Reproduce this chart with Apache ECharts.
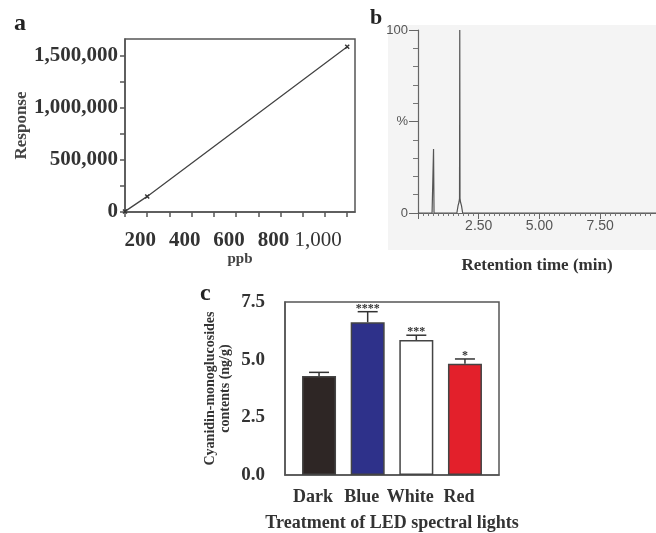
<!DOCTYPE html>
<html><head><meta charset="utf-8">
<script src="https://cdn.jsdelivr.net/npm/echarts@6/dist/echarts.min.js"></script>
<style>html,body{margin:0;padding:0;background:#fff}#c{width:656px;height:533px}</style>
</head><body><div id="c"></div>
<script>
// Panel a: calibration curve
const calibPpb = [100, 200, 1100];
const calibResponse = [6000, 150000, 1588000];
const calibXTicks = [200, 400, 600, 800, 1000];
const calibYTicks = [0, 500000, 1000000, 1500000];
// Panel b: chromatogram
const rtMin = [0, 0.58, 0.62, 0.64, 0.66, 0.70, 1.60, 1.65, 1.69, 1.71, 1.72, 1.73, 1.75, 1.79, 1.84, 9.8];
const rtPct = [0, 0, 0, 35, 0, 0, 0, 4, 6, 8, 100, 8, 6, 4, 0, 0];
const rtTicks = [2.5, 5, 7.5];
// Panel c: bar chart
const treatments = ['Dark', 'Blue', 'White', 'Red'];
const contents = [4.29, 6.62, 5.85, 4.82];
const contentsErr = [0.16, 0.46, 0.21, 0.21];
const significance = ['', '****', '***', '*'];
const barColors = ['#2e2625', '#2e318a', '#ffffff', '#e3202b'];
const contentTicks = [0, 2.5, 5, 7.5];

const SERIF = '"Liberation Serif", "DejaVu Serif", serif';
const SANS = '"Liberation Sans", Arial, sans-serif';
const AX = '#555';

const chart = echarts.init(document.getElementById('c'), null, {renderer: 'canvas'});
const option = {
  backgroundColor: '#fff',
  animation: false,
  title: [
    {text: 'a', left: 9, top: 7, textStyle: {fontFamily: SERIF, fontWeight: 'bold', fontSize: 24, color: '#222'}},
    {text: 'b', left: 365, top: 2, textStyle: {fontFamily: SERIF, fontWeight: 'bold', fontSize: 22, color: '#222'}},
    {text: 'c', left: 195, top: 277, textStyle: {fontFamily: SERIF, fontWeight: 'bold', fontSize: 24, color: '#222'}}
  ],
  grid: [
    {left: 125, right: 301, top: 39, bottom: 321, show: true, borderColor: AX, borderWidth: 1.5, backgroundColor: 'transparent'},
    {left: 388, right: 0, top: 25, bottom: 283, show: true, borderWidth: 0, backgroundColor: '#f4f4f4'},
    {left: 418, right: 0, top: 30, bottom: 320},
    {left: 285, right: 157, top: 302, bottom: 54, show: true, borderColor: AX, borderWidth: 1.5, backgroundColor: 'transparent'}
  ],
  xAxis: [
    {
      gridIndex: 0, type: 'value', min: 100, max: 1135, interval: 100,
      name: 'ppb', nameLocation: 'middle', nameGap: 35,
      nameTextStyle: {fontFamily: SERIF, fontWeight: 'bold', fontSize: 15, color: '#444'},
      axisLine: {onZero: false, lineStyle: {color: AX, width: 1.5}},
      axisTick: {inside: false, length: 5, lineStyle: {color: AX, width: 1.5}},
      splitLine: {show: false},
      axisLabel: {
        margin: 18, showMaxLabel: false, fontFamily: SERIF, fontWeight: 'bold', fontSize: 21, color: '#333',
        padding: [0, 14, 0, 0],
        formatter: v => calibXTicks.includes(v) ? (v === 1000 ? '{r|1,000}' : v.toLocaleString('en-US')) : '',
        rich: {r: {fontFamily: SERIF, fontWeight: 'normal', fontSize: 21, color: '#333'}}
      }
    },
    {gridIndex: 1, type: 'value', show: false, min: 0, max: 1},
    {
      gridIndex: 2, type: 'value', min: 0, max: 9.8, interval: 2.5,
      name: 'Retention time (min)', nameLocation: 'middle', nameGap: 44,
      nameTextStyle: {fontFamily: SERIF, fontWeight: 'bold', fontSize: 17, color: '#333'},
      axisLine: {onZero: false, lineStyle: {color: '#666', width: 1.2}},
      axisTick: {length: 6, lineStyle: {color: '#666'}},
      minorTick: {show: true, splitNumber: 12, length: 3, lineStyle: {color: '#777'}},
      splitLine: {show: false},
      axisLabel: {
        margin: 6, showMaxLabel: false, fontFamily: SANS, fontSize: 14, color: '#555',
        formatter: v => rtTicks.includes(v) ? v.toFixed(2) : ''
      }
    },
    {
      gridIndex: 3, type: 'value', min: -0.7, max: 3.7,
      name: 'Treatment of LED spectral lights', nameLocation: 'middle', nameGap: 39,
      nameTextStyle: {fontFamily: SERIF, fontWeight: 'bold', fontSize: 18, color: '#333'},
      axisLine: {onZero: false, lineStyle: {color: AX, width: 1.5}},
      axisTick: {show: false},
      splitLine: {show: false},
      axisLabel: {
        margin: 13, customValues: treatments.map((t, i) => i),
        fontFamily: SERIF, fontWeight: 'bold', fontSize: 18, color: '#333',
        padding: [0, 12, 0, 0],
        formatter: v => treatments[Math.round(v)] || ''
      }
    }
  ],
  yAxis: [
    {
      gridIndex: 0, type: 'value', min: 0, max: 1663000, interval: 250000,
      name: 'Response', nameLocation: 'middle', nameGap: 92, nameRotate: 90,
      nameTextStyle: {fontFamily: SERIF, fontWeight: 'bold', fontSize: 17, color: '#444'},
      axisLine: {onZero: false, lineStyle: {color: AX, width: 1.5}},
      axisTick: {length: 5, lineStyle: {color: AX, width: 1.5}},
      splitLine: {show: false},
      axisLabel: {
        margin: 7, showMaxLabel: false, fontFamily: SERIF, fontWeight: 'bold', fontSize: 21, color: '#333',
        formatter: v => calibYTicks.includes(v) ? v.toLocaleString('en-US') : ''
      }
    },
    {gridIndex: 1, type: 'value', show: false, min: 0, max: 1},
    {
      gridIndex: 2, type: 'value', min: 0, max: 100, interval: 50,
      axisLine: {onZero: false, lineStyle: {color: '#666', width: 1.2}},
      axisTick: {length: 9, lineStyle: {color: '#666'}},
      minorTick: {show: true, splitNumber: 5, length: 5, lineStyle: {color: '#777'}},
      splitLine: {show: false},
      axisLabel: {
        margin: 10, fontFamily: SANS, fontSize: 13, color: '#555',
        formatter: v => v === 50 ? '%' : String(v)
      }
    },
    {
      gridIndex: 3, type: 'value', min: 0, max: 7.5, interval: 2.5,
      name: 'Cyanidin-monoglucosides\ncontents (ng/g)', nameLocation: 'middle', nameGap: 52, nameRotate: 90,
      nameTextStyle: {fontFamily: SERIF, fontWeight: 'bold', fontSize: 14, lineHeight: 15, color: '#333', align: 'center'},
      axisLine: {onZero: false, lineStyle: {color: AX, width: 1.5}},
      axisTick: {show: false},
      splitLine: {show: false},
      axisLabel: {
        margin: 20, fontFamily: SERIF, fontWeight: 'bold', fontSize: 19, color: '#333',
        formatter: v => contentTicks.includes(v) ? v.toFixed(1) : ''
      }
    }
  ],
  series: [
    {
      type: 'line', xAxisIndex: 0, yAxisIndex: 0,
      data: calibPpb.map((x, i) => [x, calibResponse[i]]),
      lineStyle: {color: '#444', width: 1.3},
      symbol: 'path://M0,1L1,0L5,4L4,5Z M4,0L5,1L1,5L0,4Z', symbolSize: 5,
      itemStyle: {color: '#333'}
    },
    {
      type: 'line', xAxisIndex: 2, yAxisIndex: 2,
      data: rtMin.map((x, i) => [x, rtPct[i]]),
      showSymbol: false, symbol: 'none',
      lineStyle: {color: '#555', width: 1.2}
    },
    {
      type: 'bar', xAxisIndex: 3, yAxisIndex: 3, barWidth: 34,
      data: treatments.map((t, i) => ({value: [i, contents[i]], itemStyle: {color: barColors[i]}})),
      itemStyle: {borderColor: '#444', borderWidth: 1.5}
    },
    {
      type: 'custom', xAxisIndex: 3, yAxisIndex: 3,
      data: treatments.map((t, i) => [i, contents[i], contents[i] + contentsErr[i]]),
      renderItem: function (params, api) {
        const x = api.value(0);
        const base = api.coord([x, api.value(1)]);
        const top = api.coord([x, api.value(2)]);
        const hw = 10;
        const sty = {stroke: '#333', lineWidth: 1.5};
        return {
          type: 'group', children: [
            {type: 'line', shape: {x1: base[0], y1: base[1], x2: top[0], y2: top[1]}, style: sty},
            {type: 'line', shape: {x1: top[0] - hw, y1: top[1], x2: top[0] + hw, y2: top[1]}, style: sty},
            {type: 'text', style: {text: significance[params.dataIndex], x: top[0], y: top[1] - 3,
              align: 'center', verticalAlign: 'middle', font: 'bold 12px ' + SERIF, fill: '#333'}}
          ]
        };
      }
    }
  ]
};
chart.setOption(option);
</script>
</body></html>
